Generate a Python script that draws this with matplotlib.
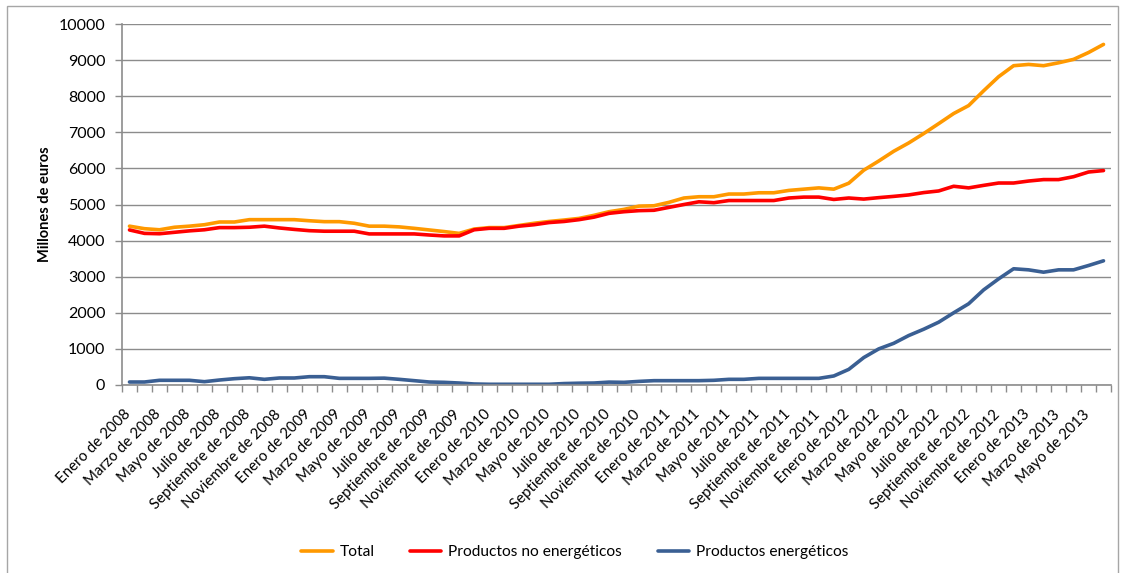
import matplotlib
matplotlib.use("Agg")
import matplotlib.pyplot as plt
from matplotlib.patches import Rectangle
from matplotlib.ticker import FixedLocator, MultipleLocator
from matplotlib.transforms import ScaledTranslation

plt.rcParams['font.family'] = ['Lato', 'DejaVu Sans']

months = ["Enero", "Febrero", "Marzo", "Abril", "Mayo", "Junio", "Julio",
          "Agosto", "Septiembre", "Octubre", "Noviembre", "Diciembre"]
categories = [f"{months[k % 12]} de {2008 + k // 12}" for k in range(66)]

total = [4400, 4330, 4300, 4370, 4400, 4440, 4515, 4515, 4580, 4580, 4580, 4580,
         4550, 4525, 4525, 4480, 4400, 4400, 4380, 4340, 4295, 4250, 4200, 4320,
         4360, 4360, 4420, 4480, 4530, 4570, 4615, 4700, 4800, 4865, 4955, 4965,
         5060, 5180, 5215, 5215, 5290, 5290, 5325, 5325, 5390, 5425, 5460, 5425,
         5590, 5950, 6205, 6475, 6705, 6965, 7240, 7520, 7740, 8150, 8540, 8845,
         8880, 8845, 8925, 9020, 9210, 9435]
no_energeticos = [4295, 4200, 4190, 4230, 4270, 4300, 4360, 4360, 4370, 4400, 4350, 4310,
                  4275, 4260, 4260, 4260, 4185, 4185, 4185, 4185, 4155, 4130, 4130, 4300,
                  4340, 4340, 4400, 4440, 4500, 4530, 4580, 4650, 4755, 4800, 4830, 4840,
                  4920, 5000, 5075, 5050, 5110, 5110, 5110, 5110, 5180, 5205, 5205, 5140,
                  5180, 5150, 5190, 5225, 5265, 5330, 5375, 5505, 5460, 5530, 5595, 5595,
                  5650, 5690, 5690, 5770, 5900, 5940]
energeticos = [83, 83, 130, 130, 130, 92, 138, 175, 200, 157, 194, 194,
               230, 230, 184, 184, 184, 190, 157, 120, 83, 74, 55, 28,
               20, 20, 20, 20, 20, 40, 50, 55, 80, 74, 100, 120,
               120, 120, 120, 130, 157, 157, 184, 184, 184, 184, 184, 250,
               433, 760, 1000, 1155, 1370, 1545, 1740, 2000, 2250, 2635, 2940, 3220,
               3190, 3125, 3190, 3190, 3310, 3440]

series_names = ["Total", "Productos no energéticos", "Productos energéticos"]
colors = ["#FF9900", "#FF0000", "#3A5F93"]

W, H = 1128, 573
fig = plt.figure(figsize=(W / 100, H / 100), dpi=100)
ax = fig.add_axes([122 / W, 1 - 385 / H, (1111 - 122) / W, (385 - 24) / H])

x = list(range(len(categories)))
for vals, name, c in zip([total, no_energeticos, energeticos], series_names, colors):
    ax.plot(x, vals, color=c, lw=2.6, label=name, solid_capstyle='round',
            solid_joinstyle='round')

ax.set_xlim(-0.5, len(categories) - 0.5)
ax.set_ylim(0, 10000)
ax.yaxis.set_major_locator(MultipleLocator(1000))
ax.grid(axis='y', color='#8C8C8C', lw=1.0)
ax.set_axisbelow(True)

grey = '#8C8C8C'
for s in ['top', 'right']:
    ax.spines[s].set_visible(False)
for s in ['left', 'bottom']:
    ax.spines[s].set_color(grey)
    ax.spines[s].set_linewidth(1.2)

ax.xaxis.set_minor_locator(FixedLocator([i - 0.5 for i in range(len(categories) + 1)]))
ax.set_xticks(x[::2])
ax.set_xticklabels(categories[::2], rotation=45, ha='right', rotation_mode='default',
                   fontsize=10.8, color='#000000')
ax.tick_params(axis='x', which='major', length=0, pad=16)
ax.tick_params(axis='x', which='minor', length=5, color=grey, width=1, direction='out')
ax.tick_params(axis='y', length=5, color=grey, width=1, direction='out', pad=7,
               labelsize=11.5)
offset = ScaledTranslation(4 / 100, 0, fig.dpi_scale_trans)
for lbl in ax.get_xticklabels():
    lbl.set_transform(lbl.get_transform() + offset)

ax.set_ylabel("Millones de euros", fontsize=10.5, fontweight='bold')
ax.yaxis.set_label_coords(-70 / (1111 - 122), 0.5)

fig.legend(loc='center', bbox_to_anchor=(575 / W, 1 - 552 / H), ncol=3, frameon=False,
           fontsize=11.2, handlelength=2.0, handletextpad=0.45, columnspacing=2.3)

fig.patches.append(Rectangle((7 / W, -0.05), (1118 - 7) / W, 1 - 6 / H + 0.05,
                             transform=fig.transFigure, fill=False,
                             edgecolor='#A6A6A6', lw=1.0))

fig.savefig("out.png", dpi=100)
